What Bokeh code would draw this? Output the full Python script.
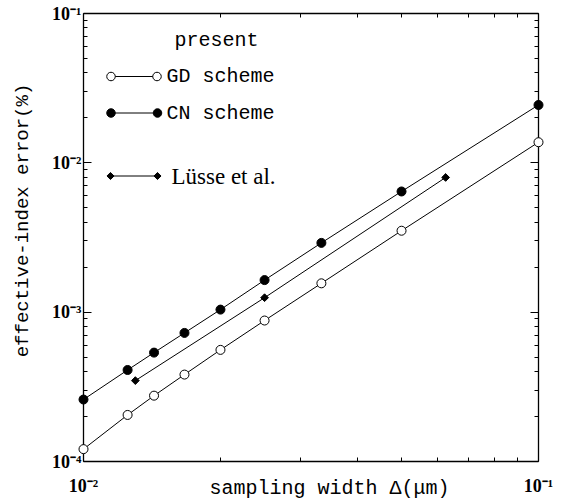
import math
from bokeh.plotting import figure
from bokeh.models import LogAxis, FixedTicker, CustomJSTickFormatter, Label, Range1d
from bokeh.core.properties import value
from bokeh.embed import file_html
from bokeh.resources import INLINE

# ---- data ----
delta = [0.01, 0.0125, 0.01429, 0.01667, 0.02, 0.025, 0.03333, 0.05, 0.1]
gd_err = [1.21e-4, 2.05e-4, 2.76e-4, 3.82e-4, 5.59e-4, 8.79e-4, 1.56e-3, 3.51e-3, 1.374e-2]
cn_err = [2.60e-4, 4.10e-4, 5.36e-4, 7.26e-4, 1.04e-3, 1.64e-3, 2.91e-3, 6.43e-3, 2.44e-2]
luesse_delta = [0.013, 0.025, 0.0625]
luesse_err = [3.48e-4, 1.25e-3, 7.98e-3]

x_ticks = [0.01, 0.1]
x_tick_labels = ["10⁻²", "10⁻¹"]
y_ticks = [1e-4, 1e-3, 1e-2, 1e-1]
y_tick_labels = ["10⁻⁴", "10⁻³", "10⁻²", "10⁻¹"]
x_minor = [k * 0.01 for k in range(2, 10)]
y_minor = [k * 10.0 ** e for e in (-4, -3, -2) for k in range(2, 10)]

legend_title = "present"
series_names = ["GD scheme", "CN scheme", "Lüsse et al."]
x_title = "sampling width Δ(μm)"
y_title = "effective-index error(%)"

# ---- layout (page pixels) ----
FW, FH = 455, 448
BL, BR, BT, BB = 83, 22, 13, 40
FRAME_LEFT, FRAME_TOP = BL, BT
FRAME_BOTTOM = BT + FH


def page_to_data(px, py):
    fx = px - FRAME_LEFT
    fy = py - FRAME_TOP
    return 10 ** (-2 + fx / FW), 10 ** (-1 - 3 * fy / FH)


def lx(px):
    return px - FRAME_LEFT


def ly(py):
    return FRAME_BOTTOM - py


p = figure(frame_width=FW, frame_height=FH,
           min_border_left=BL, min_border_right=BR, min_border_top=BT, min_border_bottom=BB,
           x_axis_type="log", y_axis_type="log",
           x_range=Range1d(0.01, 0.1), y_range=Range1d(1e-4, 1e-1),
           output_backend="svg", toolbar_location=None)
p.xgrid.visible = False
p.ygrid.visible = False
p.outline_line_color = None
p.background_fill_color = "white"
p.border_fill_color = "white"


def fmt(tick_values, labels):
    return CustomJSTickFormatter(args=dict(keys=tick_values, labs=labels), code="""
        let best = 0, bd = Infinity;
        for (let i = 0; i < keys.length; i++) {
            const d = Math.abs(Math.log10(tick) - Math.log10(keys[i]));
            if (d < bd) { bd = d; best = i; }
        }
        return bd < 1e-6 ? labs[best] : "";
    """)


def style(ax, show_labels):
    ax.axis_line_color = "black"
    ax.axis_line_width = 1.3
    ax.major_tick_in = 8
    ax.major_tick_out = 0
    ax.minor_tick_in = 4
    ax.minor_tick_out = 0
    ax.major_tick_line_color = "black"
    ax.minor_tick_line_color = "black"
    ax.major_tick_line_width = 1
    ax.minor_tick_line_width = 1
    if show_labels:
        ax.major_label_text_font = "Liberation Serif"
        ax.major_label_text_font_style = "bold"
        ax.major_label_text_font_size = "18px"
        ax.major_label_text_color = "black"
    else:
        ax.major_label_text_font_size = "0px"
        ax.major_label_standoff = 0
        ax.formatter = CustomJSTickFormatter(code="return '';")


xb = p.xaxis[0]
xb.ticker = FixedTicker(ticks=x_ticks, minor_ticks=x_minor)
xb.formatter = fmt(x_ticks, x_tick_labels)
style(xb, True)
xb.major_label_standoff = 14

yl = p.yaxis[0]
yl.ticker = FixedTicker(ticks=y_ticks, minor_ticks=y_minor)
yl.formatter = fmt(y_ticks, y_tick_labels)
style(yl, True)
yl.major_label_standoff = 2

top = LogAxis(ticker=FixedTicker(ticks=x_ticks, minor_ticks=x_minor))
style(top, False)
p.add_layout(top, "above")
right = LogAxis(ticker=FixedTicker(ticks=y_ticks, minor_ticks=y_minor))
style(right, False)
p.add_layout(right, "right")

# ---- data series ----
p.line(delta, gd_err, line_color="black", line_width=1, level="overlay")
p.scatter(delta, gd_err, marker="circle", size=9, fill_color="white",
          line_color="black", line_width=1, level="overlay")
p.line(delta, cn_err, line_color="black", line_width=1, level="overlay")
p.scatter(delta, cn_err, marker="circle", size=9, fill_color="black",
          line_color="black", line_width=1, level="overlay")
p.line(luesse_delta, luesse_err, line_color="black", line_width=1, level="overlay")
p.scatter(luesse_delta, luesse_err, marker="square", angle=math.pi / 4, size=5.5,
          fill_color="black", line_color="black", line_width=1, level="overlay")

# ---- hand-drawn legend ----
legend_keys = [  # (page y, page x left, page x right, marker, fill, size, angle)
    (76, 110.5, 156.5, "circle", "white", 8.5, 0.0),
    (112.5, 110.5, 157, "circle", "black", 8.5, 0.0),
    (175.5, 110, 157, "square", "black", 5, math.pi / 4),
]
for (py, xl, xr, mk, fill, sz, ang) in legend_keys:
    x0, y0 = page_to_data(xl, py)
    x1, _ = page_to_data(xr, py)
    p.line([x0, x1], [y0, y0], line_color="black", line_width=1, level="overlay")
    p.scatter([x0, x1], [y0, y0], marker=mk, size=sz, angle=ang, fill_color=fill,
              line_color="black", line_width=1, level="overlay")

p.add_layout(Label(x=lx(174), y=ly(40), x_units="screen", y_units="screen",
                   text=legend_title, text_font="Liberation Mono", text_font_size="20px",
                   text_align="left", text_baseline="middle", text_color="black"))
p.add_layout(Label(x=lx(166), y=ly(76), x_units="screen", y_units="screen",
                   text=series_names[0], text_font="Liberation Mono", text_font_size="20px",
                   text_align="left", text_baseline="middle", text_color="black"))
p.add_layout(Label(x=lx(166), y=ly(112.5), x_units="screen", y_units="screen",
                   text=series_names[1], text_font="Liberation Mono", text_font_size="20px",
                   text_align="left", text_baseline="middle", text_color="black"))
p.add_layout(Label(x=lx(171), y=ly(176), x_units="screen", y_units="screen",
                   text=series_names[2], text_font="Liberation Serif", text_font_size="23px",
                   text_align="left", text_baseline="middle", text_color="black"))

# ---- axis titles (overlay-level text glyphs, drawn outside the frame) ----
xt_x, xt_y = page_to_data(329, 488)
p.text(x=[xt_x], y=[xt_y], text=[x_title], text_font=value("Liberation Mono"),
       text_font_size="20px", text_align="center", text_baseline="middle",
       text_color="black", level="overlay")
yt_x, yt_y = page_to_data(22, 220)
p.text(x=[yt_x], y=[yt_y], text=[y_title], text_font=value("Liberation Mono"),
       text_font_size="19px", text_align="center", text_baseline="middle",
       angle=math.pi / 2, text_color="black", level="overlay")

open("out.html", "w").write(file_html(p, INLINE))
